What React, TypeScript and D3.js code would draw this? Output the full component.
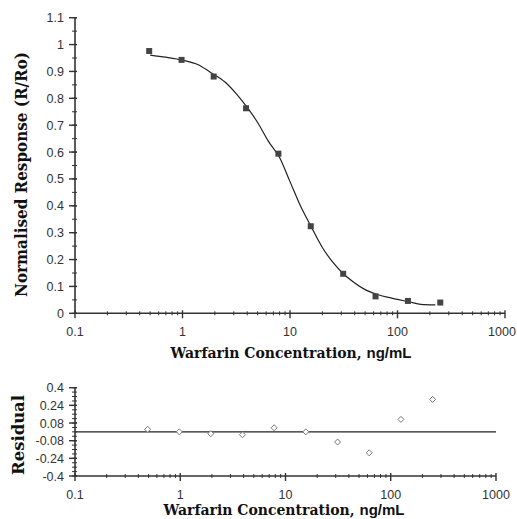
import React from 'react';
import * as d3 from 'd3';

// measured concentrations (ng/mL), doubling series
const conc = [0.49, 0.98, 1.95, 3.9, 7.8, 15.6, 31.25, 62.5, 125, 250];
const response = [0.976, 0.943, 0.881, 0.763, 0.594, 0.324, 0.147, 0.063, 0.046, 0.04];
const residual = [0.023, 0.0, -0.017, -0.026, 0.037, 0.0, -0.092, -0.19, 0.113, 0.294];

// fitted curve
const fitConc = [0.5, 0.7, 1, 1.4, 1.8, 2.5, 3.2, 4, 5, 6.3, 8, 10, 12.5, 15.6, 20, 25, 31.3, 40, 50, 64, 80, 100, 130, 165, 225];
const fitResp = [0.961, 0.953, 0.942, 0.925, 0.898, 0.86, 0.815, 0.766, 0.71, 0.64, 0.58, 0.49, 0.4, 0.325, 0.245, 0.19, 0.147, 0.113, 0.088, 0.071, 0.06, 0.052, 0.042, 0.033, 0.031];

const xTickValues = [0.1, 1, 10, 100, 1000];
const xTickLabels = ['0.1', '1', '10', '100', '1000'];
const yTopTicks = [0, 0.1, 0.2, 0.3, 0.4, 0.5, 0.6, 0.7, 0.8, 0.9, 1, 1.1];
const yTopLabels = ['0', '0.1', '0.2', '0.3', '0.4', '0.5', '0.6', '0.7', '0.8', '0.9', '1', '1.1'];
const yBotTicks = [0.4, 0.24, 0.08, -0.08, -0.24, -0.4];
const yBotLabels = ['0.4', '0.24', '0.08', '-0.08', '-0.24', '-0.4'];

const axisColor = '#333';
const labelFont = 'Liberation Sans, Arial, sans-serif';
const titleFont = 'DejaVu Serif, serif';

const minorDecades = () => {
  const out: number[] = [];
  for (let e = -1; e < 3; e++) {
    for (let m = 2; m <= 9; m++) out.push(m * Math.pow(10, e));
  }
  return out;
};

const XAxis = ({ x, y0 }: { x: d3.ScaleLogarithmic<number, number>; y0: number }) => (
  <g>
    <line x1={x.range()[0]} x2={x.range()[1]} y1={y0} y2={y0} stroke={axisColor} strokeWidth={1.6} />
    {minorDecades().map(v => (
      <line key={'m' + v} x1={x(v)} x2={x(v)} y1={y0 - 2} y2={y0 + 2} stroke={axisColor} strokeWidth={1} />
    ))}
    {xTickValues.map((v, i) => {
      // keep the last label inside the page
      const tx = Math.min(x(v), 502);
      return (
        <g key={v}>
          <line x1={x(v)} x2={x(v)} y1={y0 - 3} y2={y0 + 5} stroke={axisColor} strokeWidth={1.4} />
          <text x={tx} y={y0 + 23} textAnchor="middle" fontFamily={labelFont} fontSize={12.5} fill="#333">
            {xTickLabels[i]}
          </text>
        </g>
      );
    })}
  </g>
);

const YAxis = ({ y, x0, majors, labels, step }: {
  y: d3.ScaleLinear<number, number>; x0: number; majors: number[]; labels: string[]; step: number;
}) => {
  const [lo, hi] = y.domain();
  const minors = d3.range(Math.round((hi - lo) / step) + 1).map(i => lo + i * step);
  return (
    <g>
      <line x1={x0} x2={x0} y1={y(lo)} y2={y(hi)} stroke={axisColor} strokeWidth={1.6} />
      {minors.map(v => (
        <line key={'m' + v} x1={x0 - 3} x2={x0 + 2} y1={y(v)} y2={y(v)} stroke={axisColor} strokeWidth={1} />
      ))}
      {majors.map((v, i) => (
        <g key={v}>
          <line x1={x0 - 6} x2={x0 + 2} y1={y(v)} y2={y(v)} stroke={axisColor} strokeWidth={1.4} />
          <text x={x0 - 11} y={y(v) + 4.5} textAnchor="end" fontFamily={labelFont} fontSize={12.5} fill="#333">
            {labels[i]}
          </text>
        </g>
      ))}
    </g>
  );
};

const XTitle = ({ cx, y }: { cx: number; y: number }) => (
  <text x={cx} y={y} textAnchor="middle" fontSize={14} fontWeight="bold" fill="#111">
    <tspan fontFamily={titleFont}>Warfarin Concentration, </tspan>
    <tspan fontFamily={labelFont} fontSize={15}>ng/mL</tspan>
  </text>
);

export default function App() {
  const xTop = d3.scaleLog().domain([0.1, 1000]).range([75, 505]);
  const yTop = d3.scaleLinear().domain([0, 1.1]).range([313.3, 17.7]);
  const xBot = d3.scaleLog().domain([0.1, 1000]).range([75, 496]);
  const yBot = d3.scaleLinear().domain([-0.4, 0.4]).range([476, 387.7]);

  const fit = d3.line<number>()
    .x((d, i) => xTop(fitConc[i]))
    .y(d => yTop(d))
    .curve(d3.curveMonotoneX);

  const sq = 6;
  const dm = 3;

  return (
    <svg width={517} height={519} style={{ position: 'absolute', left: 0, top: 0, background: '#fff' }}>
      {/* top panel */}
      <YAxis y={yTop} x0={75} majors={yTopTicks} labels={yTopLabels} step={0.05} />
      <XAxis x={xTop} y0={313.3} />
      <path d={fit(fitResp) || ''} fill="none" stroke="#222" strokeWidth={1.2} />
      {conc.map((c, i) => (
        <rect key={c} x={xTop(c) - sq / 2} y={yTop(response[i]) - sq / 2} width={sq} height={sq} fill="#444" />
      ))}
      <text
        transform={`translate(27,${174.5}) rotate(-90)`}
        textAnchor="middle" fontFamily={titleFont} fontWeight="bold" fontSize={16} fill="#111"
        textLength={245} lengthAdjust="spacingAndGlyphs"
      >
        Normalised Response (R/Ro)
      </text>
      <XTitle cx={291} y={358} />

      {/* residual panel */}
      <line x1={xBot.range()[0]} x2={xBot.range()[1]} y1={yBot(0)} y2={yBot(0)} stroke="#222" strokeWidth={1.2} />
      <YAxis y={yBot} x0={75} majors={yBotTicks} labels={yBotLabels} step={0.04} />
      <XAxis x={xBot} y0={476} />
      {conc.map((c, i) => {
        const cx = xBot(c);
        const cy = yBot(residual[i]);
        return (
          <path key={c} d={`M${cx},${cy - dm}L${cx + dm},${cy}L${cx},${cy + dm}L${cx - dm},${cy}Z`}
            fill="#fff" stroke="#777" strokeWidth={1} />
        );
      })}
      <text
        transform={`translate(24,${435}) rotate(-90)`}
        textAnchor="middle" fontFamily={titleFont} fontWeight="bold" fontSize={16} fill="#111"
        textLength={80} lengthAdjust="spacingAndGlyphs"
      >
        Residual
      </text>
      <XTitle cx={284} y={515} />
    </svg>
  );
}
